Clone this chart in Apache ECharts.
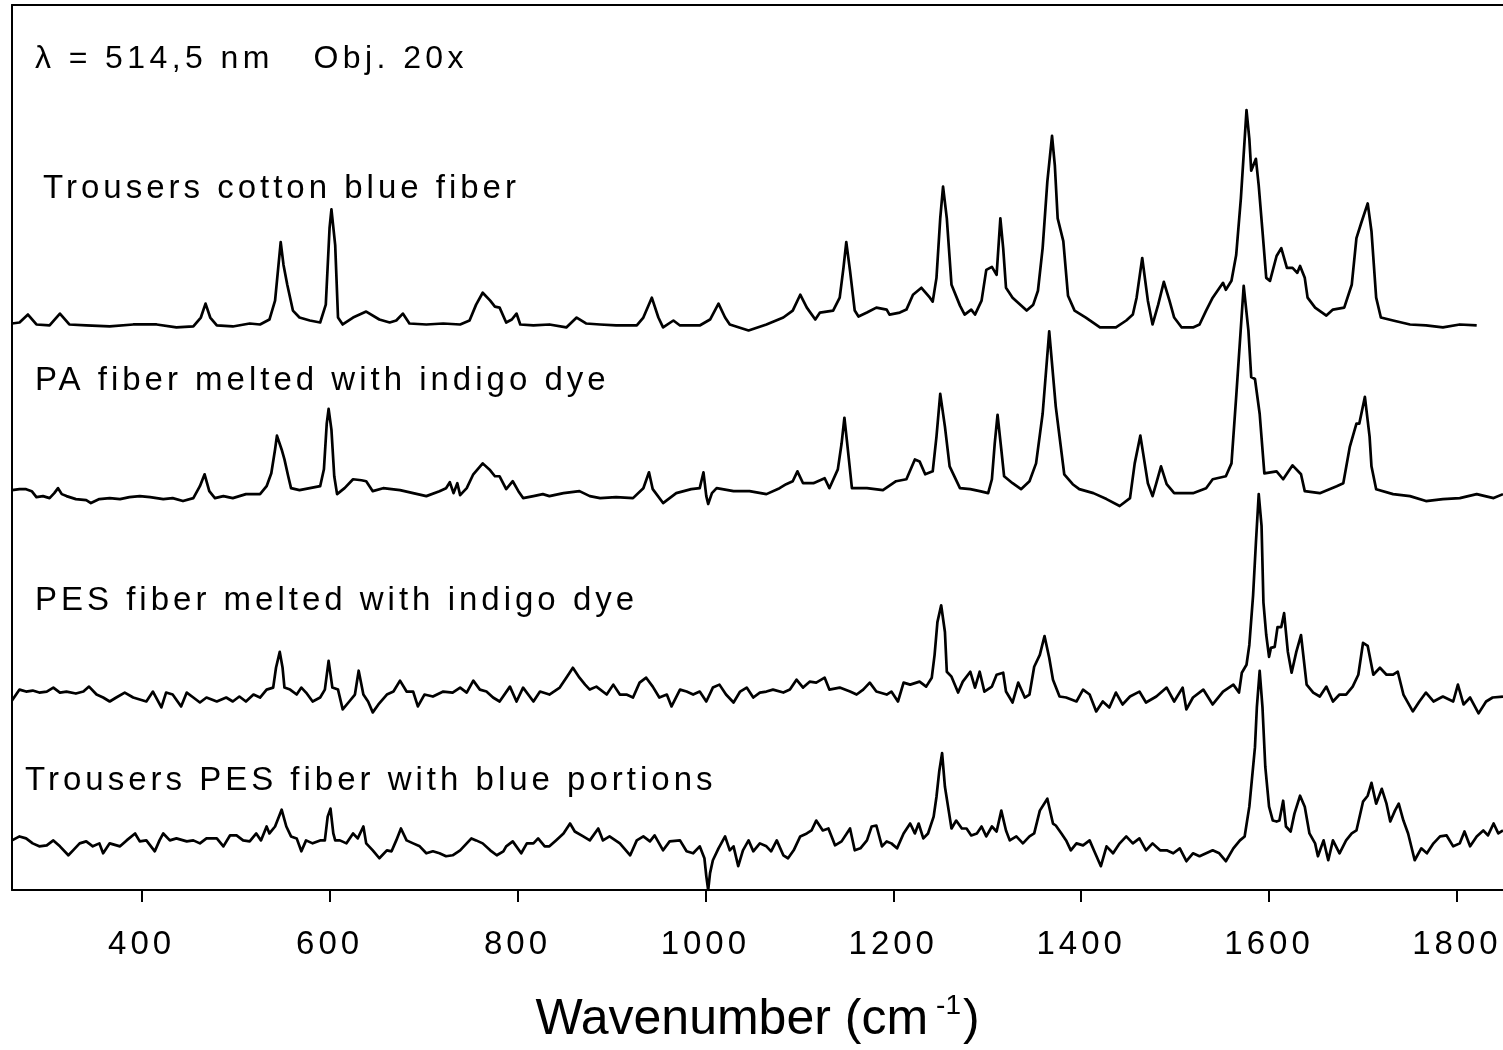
<!DOCTYPE html>
<html>
<head>
<meta charset="utf-8">
<title>Raman spectra</title>
<script src="https://cdn.jsdelivr.net/npm/echarts@6/dist/echarts.min.js"></script>
<style>
  html, body { margin: 0; padding: 0; background: #fff; }
  #chart { width: 1503px; height: 1050px; }
</style>
</head>
<body>
<div id="chart"></div>
<script>
// wavenumber (cm-1) / stacked intensity
const cotton = [[262,571],[270,572],[279,580],[288,570],[302,569],[313,581],[323,570],[341,569],[366,568],[391,570],[416,570],[437,567],[455,568],[463,577],[468,591],[473,577],[480,569],[497,568],[515,571],[526,570],[536,575],[542,594],[548,653],[551,630],[555,610],[561,584],[568,577],[579,574],[590,572],[596,590],[600,667],[602,686],[606,650],[609,577],[614,570],[625,577],[639,583],[653,575],[664,572],[671,574],[678,581],[685,571],[703,570],[721,571],[739,570],[749,574],[756,590],[763,602],[771,594],[776,588],[781,587],[788,572],[794,575],[799,581],[803,570],[817,569],[834,570],[852,567],[863,577],[873,571],[888,570],[905,569],[927,569],[934,577],[943,597],[950,577],[955,567],[966,574],[973,569],[994,569],[1005,575],[1014,591],[1021,577],[1026,570],[1046,564],[1065,570],[1083,577],[1093,584],[1101,600],[1108,587],[1117,575],[1122,582],[1136,584],[1143,597],[1147,627],[1150,653],[1154,624],[1159,584],[1163,578],[1172,582],[1182,587],[1193,585],[1196,580],[1207,582],[1214,585],[1221,600],[1230,607],[1239,597],[1242,593],[1246,617],[1250,677],[1253,709],[1257,677],[1262,610],[1271,589],[1276,580],[1283,585],[1287,580],[1294,594],[1299,625],[1305,628],[1310,620],[1314,677],[1317,647],[1320,607],[1327,597],[1342,584],[1349,590],[1354,604],[1359,647],[1364,714],[1369,760],[1372,730],[1375,677],[1381,654],[1386,599],[1393,584],[1405,577],[1420,567],[1437,567],[1448,574],[1455,580],[1459,597],[1465,637],[1471,594],[1476,570],[1482,590],[1488,613],[1494,594],[1499,577],[1507,567],[1519,567],[1526,570],[1533,584],[1540,597],[1551,612],[1554,605],[1560,614],[1565,640],[1570,697],[1576,786],[1579,757],[1581,725],[1586,737],[1589,710],[1593,664],[1597,617],[1601,614],[1608,639],[1613,647],[1619,627],[1625,627],[1630,622],[1633,629],[1638,617],[1641,597],[1649,587],[1661,579],[1668,585],[1680,587],[1688,610],[1693,657],[1698,672],[1705,692],[1709,664],[1714,597],[1719,577],[1732,574],[1750,570],[1767,569],[1785,567],[1803,570],[1821,569]];

const paIndigo = [[262,403],[270,404],[277,404],[283,402],[288,396],[295,397],[302,395],[307,400],[311,405],[315,399],[320,397],[330,394],[341,393],[346,390],[355,394],[366,395],[377,394],[387,396],[398,397],[409,396],[423,394],[433,395],[444,392],[455,395],[462,407],[467,419],[472,402],[478,395],[487,397],[497,395],[511,399],[526,399],[533,407],[538,420],[542,444],[544,458],[549,444],[552,434],[556,417],[559,405],[568,403],[579,405],[590,407],[594,424],[597,470],[599,485],[602,464],[605,417],[608,399],[616,405],[625,414],[634,413],[639,412],[646,402],[657,405],[675,403],[689,400],[703,397],[717,402],[724,405],[728,411],[732,400],[736,410],[739,398],[746,405],[753,419],[763,430],[771,423],[776,417],[781,417],[788,404],[795,412],[801,402],[806,395],[817,397],[827,399],[834,397],[849,400],[866,402],[877,397],[888,395],[905,396],[923,395],[934,405],[940,421],[944,404],[955,390],[969,400],[985,404],[994,405],[998,421],[1001,397],[1003,389],[1007,400],[1012,405],[1030,402],[1047,402],[1065,399],[1079,405],[1086,409],[1093,412],[1098,422],[1104,410],[1115,410],[1127,415],[1132,405],[1141,424],[1145,450],[1148,476],[1151,450],[1156,405],[1172,405],[1189,403],[1203,412],[1214,414],[1223,434],[1228,432],[1234,419],[1242,422],[1246,457],[1250,500],[1255,467],[1260,427],[1271,405],[1282,404],[1292,402],[1301,400],[1305,414],[1308,450],[1311,479],[1315,444],[1318,417],[1327,410],[1336,404],[1345,412],[1352,430],[1359,480],[1366,563],[1373,487],[1382,419],[1391,409],[1398,404],[1413,400],[1427,394],[1441,387],[1452,395],[1457,430],[1463,458],[1471,410],[1476,397],[1480,410],[1485,427],[1491,409],[1499,400],[1519,400],[1533,405],[1540,414],[1554,417],[1560,430],[1565,497],[1573,609],[1578,564],[1581,517],[1585,515],[1590,480],[1595,420],[1608,422],[1615,414],[1625,428],[1634,419],[1638,402],[1654,400],[1672,407],[1679,410],[1686,447],[1693,470],[1696,470],[1702,497],[1707,457],[1709,427],[1714,404],[1732,399],[1750,397],[1767,392],[1785,394],[1803,395],[1821,399],[1839,395],[1849,399]];

const pesIndigo = [[262,191],[270,202],[277,200],[284,201],[291,199],[299,200],[306,204],[313,199],[320,200],[330,198],[338,200],[344,205],[352,197],[359,194],[366,190],[373,194],[382,199],[391,194],[398,192],[405,190],[412,200],[421,184],[426,199],[433,197],[442,185],[448,199],[455,194],[462,189],[469,194],[480,190],[490,194],[497,190],[504,195],[511,190],[519,197],[526,194],[533,202],[540,204],[543,224],[547,240],[550,224],[552,204],[558,202],[565,197],[570,204],[575,199],[582,190],[590,194],[595,202],[599,231],[603,204],[609,202],[614,182],[621,190],[627,197],[631,221],[636,197],[641,190],[646,179],[652,187],[661,197],[668,200],[675,211],[682,200],[689,200],[694,185],[701,197],[710,195],[721,200],[731,199],[739,204],[746,199],[753,211],[760,202],[767,200],[774,194],[781,190],[792,205],[799,190],[806,204],[817,190],[824,200],[834,197],[845,204],[852,214],[859,224],[866,214],[872,207],[877,202],[884,205],[895,197],[902,207],[909,197],[916,197],[923,194],[930,209],[937,214],[944,205],[951,194],[959,197],[964,185],[973,202],[980,200],[987,197],[994,200],[1001,190],[1008,204],[1015,207],[1022,197],[1030,189],[1037,200],[1044,204],[1051,194],[1058,199],[1065,200],[1072,202],[1083,199],[1090,202],[1097,212],[1104,204],[1111,210],[1118,209],[1127,214],[1132,202],[1143,204],[1154,200],[1161,197],[1168,202],[1175,209],[1182,200],[1193,197],[1198,200],[1205,190],[1211,209],[1218,207],[1228,210],[1235,205],[1241,214],[1244,237],[1247,270],[1251,287],[1255,260],[1257,220],[1262,215],[1269,199],[1274,210],[1282,220],[1287,204],[1292,220],[1297,200],[1305,205],[1310,217],[1317,219],[1320,200],[1327,189],[1333,209],[1340,194],[1345,197],[1350,225],[1356,237],[1361,256],[1366,234],[1370,212],[1377,195],[1384,194],[1395,190],[1402,202],[1409,197],[1416,180],[1423,190],[1430,184],[1437,199],[1444,187],[1452,195],[1462,200],[1469,189],[1480,195],[1491,204],[1499,190],[1508,204],[1512,182],[1519,194],[1530,202],[1540,187],[1551,200],[1562,207],[1568,199],[1571,219],[1576,227],[1579,247],[1583,297],[1586,350],[1589,399],[1592,367],[1594,290],[1597,257],[1600,235],[1602,244],[1606,245],[1609,265],[1613,265],[1616,279],[1620,240],[1624,219],[1629,240],[1634,257],[1640,207],[1647,199],[1654,195],[1661,205],[1668,190],[1675,197],[1682,197],[1689,205],[1695,217],[1700,249],[1705,246],[1711,217],[1718,224],[1725,217],[1732,217],[1737,220],[1743,197],[1753,180],[1760,190],[1767,199],[1775,190],[1785,195],[1796,190],[1801,207],[1807,187],[1814,194],[1823,178],[1831,190],[1838,194],[1849,195]];

const trousersPes = [[262,50],[270,54],[277,52],[284,47],[291,44],[299,45],[306,50],[313,44],[322,35],[327,40],[334,47],[341,49],[348,44],[355,47],[359,37],[366,47],[377,44],[384,50],[393,57],[398,49],[405,50],[414,39],[419,50],[423,57],[430,50],[437,52],[448,49],[455,50],[462,47],[469,52],[480,52],[487,44],[494,55],[501,55],[508,50],[515,49],[522,57],[527,50],[533,64],[536,57],[542,64],[549,81],[554,64],[559,54],[565,52],[570,39],[575,50],[582,47],[590,50],[595,50],[598,74],[601,82],[604,57],[606,50],[611,50],[618,47],[625,57],[630,52],[636,64],[639,47],[646,40],[653,32],[661,40],[666,39],[671,50],[676,62],[682,50],[689,47],[696,44],[703,37],[710,39],[717,37],[724,34],[731,35],[739,40],[746,47],[751,52],[756,50],[763,47],[771,40],[778,35],[785,39],[788,44],[795,49],[804,37],[810,47],[817,47],[822,52],[829,44],[834,44],[841,50],[849,57],[856,67],[861,59],[870,54],[877,50],[886,62],[891,50],[898,54],[909,47],[920,35],[927,50],[934,54],[941,49],[946,55],[955,40],[962,49],[973,50],[980,39],[987,37],[994,44],[999,32],[1001,14],[1003,0],[1005,17],[1008,30],[1014,42],[1021,54],[1026,40],[1030,44],[1035,24],[1040,40],[1046,50],[1051,39],[1058,47],[1065,44],[1070,39],[1076,50],[1083,35],[1088,32],[1094,40],[1101,54],[1108,57],[1113,60],[1118,70],[1125,60],[1131,62],[1138,45],[1145,49],[1154,62],[1159,40],[1165,42],[1172,50],[1177,64],[1182,65],[1188,44],[1193,49],[1198,47],[1204,42],[1211,57],[1218,67],[1223,57],[1227,67],[1232,52],[1237,57],[1243,74],[1246,94],[1249,120],[1252,138],[1255,104],[1259,80],[1262,62],[1267,70],[1273,62],[1278,62],[1283,55],[1289,57],[1294,64],[1299,54],[1305,64],[1310,59],[1315,80],[1320,60],[1324,50],[1331,54],[1338,47],[1345,54],[1350,57],[1356,80],[1364,92],[1370,67],[1373,65],[1379,57],[1384,50],[1389,40],[1395,47],[1402,45],[1409,50],[1414,39],[1421,24],[1427,44],[1434,37],[1441,47],[1448,54],[1455,47],[1462,52],[1469,40],[1476,47],[1484,40],[1491,40],[1498,37],[1505,42],[1512,29],[1519,37],[1526,34],[1533,37],[1540,40],[1547,37],[1554,29],[1562,42],[1569,50],[1574,54],[1579,84],[1585,144],[1587,184],[1590,221],[1593,184],[1596,124],[1600,84],[1604,70],[1608,69],[1611,70],[1615,90],[1618,64],[1623,59],[1627,77],[1633,95],[1638,84],[1643,57],[1649,47],[1652,34],[1658,50],[1663,30],[1668,50],[1675,37],[1682,50],[1688,57],[1693,60],[1700,89],[1705,95],[1709,108],[1714,87],[1720,102],[1725,87],[1729,69],[1734,80],[1738,87],[1743,70],[1748,57],[1755,30],[1762,42],[1768,37],[1775,47],[1782,54],[1789,55],[1796,44],[1803,47],[1808,59],[1814,44],[1821,54],[1828,60],[1833,55],[1839,67],[1844,57],[1849,60]];

const xTicks = [400, 600, 800, 1000, 1200, 1400, 1600, 1800];
const spectrumNames = [
  'Trousers cotton blue fiber',
  'PA fiber melted with indigo dye',
  'PES fiber melted with indigo dye',
  'Trousers PES fiber with blue portions'
];
const headline = 'λ = 514,5 nm   Obj. 20x';

// the original figure has loose letter spacing; zrender has no option for it,
// so set it on the canvas context per font size
const SPACING = { 32: 4.4, 33: 4 };
const nativeFillText = CanvasRenderingContext2D.prototype.fillText;
CanvasRenderingContext2D.prototype.fillText = function (text, x, y, maxWidth) {
  const m = /(\d+(?:\.\d+)?)px/.exec(this.font);
  const gap = m ? SPACING[Math.round(+m[1])] : 0;
  if (gap && 'letterSpacing' in this) this.letterSpacing = gap + 'px';
  if (maxWidth === undefined) nativeFillText.call(this, text, x, y);
  else nativeFillText.call(this, text, x, y, maxWidth);
  if (gap && 'letterSpacing' in this) this.letterSpacing = '0px';
};

const FONT = '"Liberation Sans", Arial, sans-serif';
const chart = echarts.init(document.getElementById('chart'), null, { renderer: 'canvas' });

const labelPos = [[43, 172], [35, 364], [35, 584], [25, 764]];
const seriesData = [cotton, paIndigo, pesIndigo, trousersPes];

chart.setOption({
  animation: false,
  backgroundColor: '#fff',
  grid: { left: 12, right: 0, top: 5, bottom: 153, containLabel: false },
  xAxis: [
    {
      type: 'value',
      min: 262,
      max: 1849,
      name: '{a|Wavenumber (cm}{s|-1}{a|)}',
      nameLocation: 'middle',
      nameGap: 102,
      nameTextStyle: {
        rich: {
          a: { fontFamily: FONT, fontSize: 50, color: '#000', lineHeight: 56 },
          s: { fontFamily: FONT, fontSize: 28, color: '#000', verticalAlign: 'top', lineHeight: 26, padding: [0, 2, 0, 8] }
        }
      },
      axisLine: { onZero: false, lineStyle: { color: '#000', width: 2 } },
      axisTick: { customValues: xTicks, length: 12, lineStyle: { color: '#000', width: 2 } },
      axisLabel: {
        customValues: xTicks,
        formatter: v => String(v),
        margin: 38,
        fontFamily: FONT,
        fontSize: 33,
        color: '#000'
      },
      splitLine: { show: false }
    },
    {
      type: 'value',
      position: 'top',
      min: 262,
      max: 1849,
      axisLine: { onZero: false, lineStyle: { color: '#000', width: 2 } },
      axisTick: { show: false },
      axisLabel: { show: false },
      splitLine: { show: false }
    }
  ],
  yAxis: {
    type: 'value',
    min: 0,
    max: 892,
    axisLine: { show: true, onZero: false, lineStyle: { color: '#000', width: 2 } },
    axisTick: { show: false },
    axisLabel: { show: false },
    splitLine: { show: false }
  },
  series: seriesData.map((d, i) => ({
    name: spectrumNames[i],
    type: 'line',
    data: d,
    showSymbol: false,
    symbol: 'none',
    lineStyle: { color: '#000', width: 2.7, join: 'round' },
    z: 3
  })),
  graphic: [
    {
      type: 'text',
      left: 35,
      top: 43,
      style: { text: headline, font: '32px ' + FONT, fill: '#000' }
    }
  ].concat(spectrumNames.map((t, i) => ({
    type: 'text',
    left: labelPos[i][0],
    top: labelPos[i][1],
    style: { text: t, font: '33px ' + FONT, fill: '#000' }
  })))
});
</script>
</body>
</html>
